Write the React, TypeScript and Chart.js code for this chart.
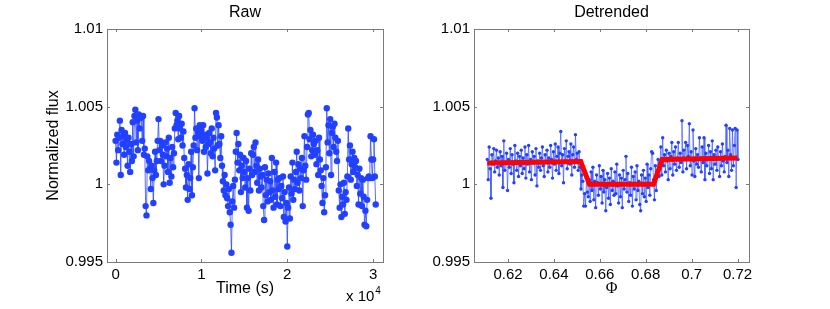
import React, { useEffect, useRef } from 'react';
import { Chart, registerables } from 'chart.js';

Chart.register(...registerables);

// ---------- data ----------
const rawStartTime = 0; // s
const rawCadence = 100; // s between exposures
const rawFlux = [
  1.0028, 1.0014, 1.0032, 1.0022, 1.0030, 1.0041, 1.0006, 1.0035, 1.0026, 1.0031,
  1.0019, 1.0033, 1.0024, 1.0028, 1.0012, 1.0030, 1.0021, 1.0008, 1.0026, 1.0015,
  1.0040, 1.0018, 1.0044, 1.0048, 1.0027, 1.0041, 1.0022, 1.0045, 1.0036, 1.0043,
  1.0043, 1.0028, 1.0044, 1.0019, 1.0023, 0.9986, 0.9980, 1.0018, 1.0009, 1.0015,
  1.0010, 0.9997, 1.0012, 1.0004, 0.9988, 1.0009, 1.0021, 1.0006, 1.0015, 1.0028,
  1.0042, 1.0022, 1.0028, 1.0015, 1.0025, 1.0019, 1.0000, 1.0012, 1.0027, 1.0018,
  1.0023, 1.0008, 1.0030, 1.0001, 1.0017, 1.0005, 1.0024, 1.0011, 1.0020, 1.0036,
  1.0046, 1.0038, 1.0041, 1.0029, 1.0044, 1.0036, 1.0030, 1.0039, 1.0025, 1.0034,
  1.0017, 1.0010, 0.9998, 1.0006, 0.9990, 1.0013, 0.9997, 1.0004, 1.0021, 0.9993,
  1.0011, 1.0025, 1.0049, 1.0030, 1.0036, 1.0022, 1.0033, 1.0004, 1.0038, 1.0031,
  1.0035, 1.0028, 1.0038, 1.0021, 1.0032, 1.0024, 1.0030, 1.0007, 1.0026, 1.0033,
  1.0027, 1.0020, 1.0036, 1.0018, 1.0030, 1.0023, 1.0009, 1.0046, 1.0043, 1.0025,
  1.0038, 1.0026, 1.0017, 1.0031, 1.0012, 1.0002, 0.9996, 1.0006, 0.9993, 1.0000,
  0.9991, 0.9986, 0.9997, 0.9982, 0.9974, 0.9956, 0.9989, 0.9999, 0.9985, 1.0003,
  1.0021, 1.0033, 1.0014, 1.0026, 1.0009, 1.0019, 0.9995, 1.0012, 1.0004, 1.0017,
  1.0008, 0.9998, 1.0015, 0.9985, 1.0004, 0.9983, 1.0010, 0.9996, 1.0020, 1.0006,
  1.0019, 1.0024, 1.0008, 1.0027, 1.0012, 1.0001, 1.0016, 0.9996, 1.0010, 1.0005,
  0.9998, 1.0006, 0.9986, 0.9977, 1.0011, 0.9993, 1.0003, 0.9989, 1.0007, 0.9995,
  1.0002, 0.9990, 1.0017, 0.9996, 0.9985, 1.0008, 0.9992, 1.0014, 0.9987, 1.0003,
  0.9997, 1.0004, 0.9986, 0.9999, 0.9991, 1.0005, 0.9979, 0.9995, 0.9976, 0.9988,
  0.9960, 0.9985, 0.9998, 0.9978, 1.0005, 0.9994, 1.0014, 0.9990, 1.0003, 0.9997,
  1.0008, 1.0021, 1.0001, 1.0013, 0.9996, 1.0010, 1.0004, 1.0017, 0.9986, 1.0009,
  1.0031, 1.0012, 1.0003, 1.0024, 1.0045, 1.0046, 1.0029, 1.0035, 1.0018, 1.0022,
  1.0032, 1.0026, 1.0019, 1.0028, 1.0013, 1.0022, 1.0006, 1.0030, 1.0016, 1.0009,
  0.9999, 0.9988, 1.0004, 0.9982, 0.9993, 1.0011, 1.0049, 1.0027, 1.0038, 1.0020,
  1.0042, 1.0006, 1.0033, 1.0037, 1.0024, 1.0039, 1.0030, 1.0021, 1.0015, 1.0028,
  0.9996, 0.9985, 1.0000, 0.9979, 0.9992, 0.9987, 1.0001, 0.9981, 0.9995, 0.9990,
  1.0005, 1.0036, 1.0016, 1.0025, 1.0003, 1.0013, 1.0021, 1.0008, 1.0017, 1.0011,
  1.0015, 0.9999, 1.0006, 0.9987, 1.0010, 0.9994, 1.0004, 0.9986, 1.0003, 0.9992,
  0.9974, 0.9983, 0.9973, 0.9990, 1.0004, 1.0005, 1.0004, 1.0031, 1.0016, 1.0004,
  1.0016, 1.0029, 1.0005, 0.9987,
];

const phaseStart = 0.611;
const phaseStep = 0.0004;
const detrendedFlux = [
  1.0016, 1.0003, 1.0024, 1.0010, 0.9991, 1.0019, 1.0013, 1.0023, 1.0008, 1.0015,
  1.0022, 1.0011, 1.0017, 1.0006, 1.0021, 1.0012, 1.0018, 0.9998, 1.0028, 1.0009,
  1.0014, 1.0020, 0.9996, 1.0016, 1.0011, 1.0023, 1.0007, 1.0019, 1.0013, 1.0001,
  1.0025, 1.0015, 1.0009, 1.0020, 1.0005, 1.0018, 1.0012, 1.0022, 1.0007, 1.0017,
  1.0010, 1.0024, 1.0004, 1.0019, 1.0013, 1.0025, 1.0008, 1.0016, 1.0003, 1.0021,
  1.0014, 1.0018, 1.0006, 1.0023, 0.9999, 1.0015, 1.0011, 1.0020, 1.0009, 1.0017,
  1.0024, 1.0012, 1.0005, 1.0019, 1.0014, 1.0022, 1.0008, 1.0017, 1.0011, 1.0025,
  1.0016, 1.0004, 1.0021, 1.0013, 1.0026, 1.0009, 1.0018, 1.0024, 1.0007, 1.0020,
  1.0034, 1.0012, 1.0019, 1.0001, 1.0023, 1.0015, 1.0028, 1.0010, 1.0018, 1.0021,
  1.0013, 1.0026, 1.0006, 1.0019, 1.0024, 1.0011, 1.0032, 1.0016, 1.0020, 1.0009,
  1.0021, 1.0011, 0.9997, 1.0006, 1.0002, 0.9986, 0.9994, 0.9986, 1.0004, 0.9995,
  0.9992, 1.0003, 0.9989, 1.0008, 0.9996, 1.0011, 0.9990, 1.0002, 0.9985, 1.0006,
  1.0001, 0.9993, 1.0012, 0.9997, 1.0005, 0.9988, 1.0009, 0.9995, 1.0003, 0.9983,
  0.9998, 1.0007, 0.9991, 1.0004, 0.9987, 1.0010, 0.9996, 1.0002, 0.9993, 1.0008,
  0.9994, 1.0013, 0.9999, 0.9988, 1.0006, 0.9992, 1.0004, 0.9985, 1.0009, 0.9997,
  1.0003, 1.0018, 0.9995, 1.0007, 0.9989, 1.0001, 0.9993, 1.0011, 0.9986, 1.0005,
  0.9997, 1.0008, 0.9990, 1.0012, 0.9996, 1.0002, 0.9987, 0.9983, 1.0006, 0.9994,
  1.0009, 0.9992, 1.0004, 0.9989, 1.0013, 0.9998, 1.0006, 0.9993, 1.0010, 1.0021,
  1.0020, 1.0003, 0.9990, 1.0012, 0.9996, 1.0008, 1.0016, 1.0005, 1.0014, 1.0024,
  1.0006, 1.0030, 1.0012, 1.0019, 1.0008, 1.0022, 1.0015, 1.0003, 1.0020, 1.0010,
  1.0018, 1.0027, 1.0006, 1.0021, 1.0013, 1.0024, 1.0009, 1.0017, 1.0027, 1.0011,
  1.0020, 1.0014, 1.0041, 1.0008, 1.0022, 1.0016, 1.0027, 1.0010, 1.0025, 1.0018,
  1.0039, 1.0012, 1.0021, 1.0006, 1.0035, 1.0015, 1.0005, 1.0023, 1.0013, 1.0019,
  1.0011, 1.0030, 1.0017, 1.0008, 1.0024, 1.0014, 1.0030, 1.0003, 1.0020, 1.0012,
  1.0016, 1.0025, 1.0007, 1.0021, 1.0010, 1.0028, 1.0003, 1.0019, 1.0013, 1.0022,
  1.0009, 1.0024, 1.0017, 1.0005, 1.0021, 1.0012, 1.0026, 1.0015, 1.0008, 1.0018,
  1.0038, 1.0014, 1.0022, 1.0005, 1.0036, 1.0019, 1.0009, 1.0035, 1.0012, 1.0025,
  1.0036, 0.9998, 1.0035, 1.0016,
];

const modelPhase = [0.611, 0.6517, 0.6555, 0.6834, 0.6872, 0.72];
const modelFlux = [1.00137, 1.00147, 1.0, 1.0, 1.0016, 1.00169];

const yTickValues = [0.995, 1, 1.005, 1.01];
const yTickLabels = ['0.995', '1', '1.005', '1.01'];
const timeTickValues = [0, 10000, 20000, 30000];
const timeTickLabels = ['0', '1', '2', '3'];
const phaseTickValues = [0.62, 0.64, 0.66, 0.68, 0.7, 0.72];
const phaseTickLabels = ['0.62', '0.64', '0.66', '0.68', '0.7', '0.72'];

// ---------- styles ----------
const SANS = '"Liberation Sans", Arial, Helvetica, sans-serif';
const SERIF = '"Liberation Serif", "Times New Roman", serif';
const BLUE = 'rgb(34,64,255)';
const BLUE_LINE = 'rgba(34,64,255,0.75)';
const AXIS = '#7a7a7a';

const boxPlugin = {
  id: 'matlabBox',
  afterDatasetsDraw(chart: any) {
    const { ctx, chartArea } = chart;
    const { left, right, top, bottom } = chartArea;
    const xs = chart.scales.x;
    const ys = chart.scales.y;
    const tl = 3;
    ctx.save();
    ctx.strokeStyle = AXIS;
    ctx.lineWidth = 1;
    ctx.strokeRect(left + 0.5, top + 0.5, right - left, bottom - top);
    ctx.beginPath();
    xs.ticks.forEach((t: any) => {
      const px = Math.round(xs.getPixelForValue(t.value)) + 0.5;
      ctx.moveTo(px, bottom);
      ctx.lineTo(px, bottom - tl);
      ctx.moveTo(px, top);
      ctx.lineTo(px, top + tl);
    });
    ys.ticks.forEach((t: any) => {
      const py = Math.round(ys.getPixelForValue(t.value)) + 0.5;
      ctx.moveTo(left, py);
      ctx.lineTo(left + tl, py);
      ctx.moveTo(right, py);
      ctx.lineTo(right - tl, py);
    });
    ctx.stroke();
    ctx.restore();
  },
};

const exponentPlugin = {
  id: 'exponentLabel',
  afterDraw(chart: any) {
    const { ctx, chartArea } = chart;
    ctx.save();
    ctx.fillStyle = '#000';
    ctx.textBaseline = 'alphabetic';
    ctx.font = `15px ${SANS}`;
    const base = 'x 10';
    const w = ctx.measureText(base).width;
    const x0 = chartArea.right - 37;
    const y0 = chartArea.bottom + 39;
    ctx.fillText(base, x0, y0);
    ctx.font = `10px ${SANS}`;
    ctx.fillText('4', x0 + w + 1, y0 - 7);
    ctx.restore();
  },
};

function yScale(width: number, title: string | null) {
  return {
    type: 'linear',
    min: 0.995,
    max: 1.01,
    grid: { display: false, drawTicks: false },
    border: { display: false },
    afterBuildTicks: (s: any) => {
      s.ticks = yTickValues.map((v) => ({ value: v }));
    },
    afterFit: (s: any) => {
      s.width = width;
    },
    ticks: {
      padding: 4,
      color: '#000',
      font: { family: SANS, size: 15 },
      callback: (v: any) => {
        const i = yTickValues.findIndex((t) => Math.abs(t - v) < 1e-9);
        return i >= 0 ? yTickLabels[i] : '';
      },
    },
    title: title
      ? { display: true, text: title, color: '#000', font: { family: SANS, size: 16 }, padding: 0 }
      : { display: false },
  };
}

function xScale(min: number, max: number, vals: number[], labels: string[], title: string, font: any) {
  return {
    type: 'linear',
    min,
    max,
    grid: { display: false, drawTicks: false },
    border: { display: false },
    afterBuildTicks: (s: any) => {
      s.ticks = vals.map((v) => ({ value: v }));
    },
    afterFit: (s: any) => {
      s.height = 36;
    },
    ticks: {
      padding: 4,
      maxRotation: 0,
      autoSkip: false,
      color: '#000',
      font: { family: SANS, size: 15 },
      callback: (v: any) => {
        const i = vals.findIndex((t) => Math.abs(t - v) < 1e-9);
        return i >= 0 ? labels[i] : '';
      },
    },
    title: { display: true, text: title, color: '#000', font, padding: 0 },
  };
}

function titlePlugin(text: string) {
  return {
    display: true,
    text,
    color: '#000',
    fullSize: false,
    font: { family: SANS, size: 16, weight: 'normal' },
    padding: { top: 3, bottom: 6.8 },
  };
}

export default function App() {
  const rawRef = useRef<HTMLCanvasElement>(null);
  const detRef = useRef<HTMLCanvasElement>(null);

  useEffect(() => {
    const rawPoints = rawFlux.map((y, i) => ({ x: rawStartTime + i * rawCadence, y }));
    const detPoints = detrendedFlux.map((y, i) => ({ x: phaseStart + i * phaseStep, y }));
    const modelPoints = modelPhase.map((x, i) => ({ x, y: modelFlux[i] }));

    const c1 = new Chart(rawRef.current as HTMLCanvasElement, {
      type: 'line',
      data: {
        datasets: [
          {
            data: rawPoints,
            borderColor: BLUE_LINE,
            borderWidth: 1,
            pointRadius: 3.2,
            pointBackgroundColor: BLUE,
            pointBorderWidth: 0,
            tension: 0,
          },
        ],
      },
      options: {
        animation: false,
        responsive: false,
        devicePixelRatio: 1,
        parsing: false,
        layout: { padding: { left: 44, right: 32, top: 0, bottom: 11 } },
        plugins: {
          legend: { display: false },
          tooltip: { enabled: false },
          title: titlePlugin('Raw'),
        },
        scales: {
          x: xScale(-1000, 31150, timeTickValues, timeTickLabels, 'Time (s)', { family: SANS, size: 16 }),
          y: yScale(63, 'Normalized flux'),
        },
      } as any,
      plugins: [boxPlugin, exponentPlugin],
    } as any);

    const c2 = new Chart(detRef.current as HTMLCanvasElement, {
      type: 'line',
      data: {
        datasets: [
          {
            data: modelPoints,
            borderColor: '#ff0000',
            borderWidth: 5,
            pointRadius: 0,
            tension: 0,
          },
          {
            data: detPoints,
            borderColor: BLUE_LINE,
            borderWidth: 0.8,
            pointRadius: 1.7,
            pointBackgroundColor: BLUE,
            pointBorderWidth: 0,
            tension: 0,
          },
        ],
      },
      options: {
        animation: false,
        responsive: false,
        devicePixelRatio: 1,
        parsing: false,
        layout: { padding: { left: 0, right: 81, top: 0, bottom: 11 } },
        plugins: {
          legend: { display: false },
          tooltip: { enabled: false },
          title: titlePlugin('Detrended'),
        },
        scales: {
          x: xScale(0.6052, 0.725, phaseTickValues, phaseTickLabels, 'Φ', { family: SERIF, size: 16 }),
          y: yScale(59, null),
        },
      } as any,
      plugins: [boxPlugin],
    } as any);

    return () => {
      c1.destroy();
      c2.destroy();
    };
  }, []);

  return (
    <div style={{ position: 'fixed', left: 0, top: 0, width: 830, height: 309, background: '#fff' }}>
      <canvas ref={rawRef} width={415} height={309} style={{ position: 'absolute', left: 0, top: 0, width: 415, height: 309 }} />
      <canvas ref={detRef} width={415} height={309} style={{ position: 'absolute', left: 415, top: 0, width: 415, height: 309 }} />
    </div>
  );
}
